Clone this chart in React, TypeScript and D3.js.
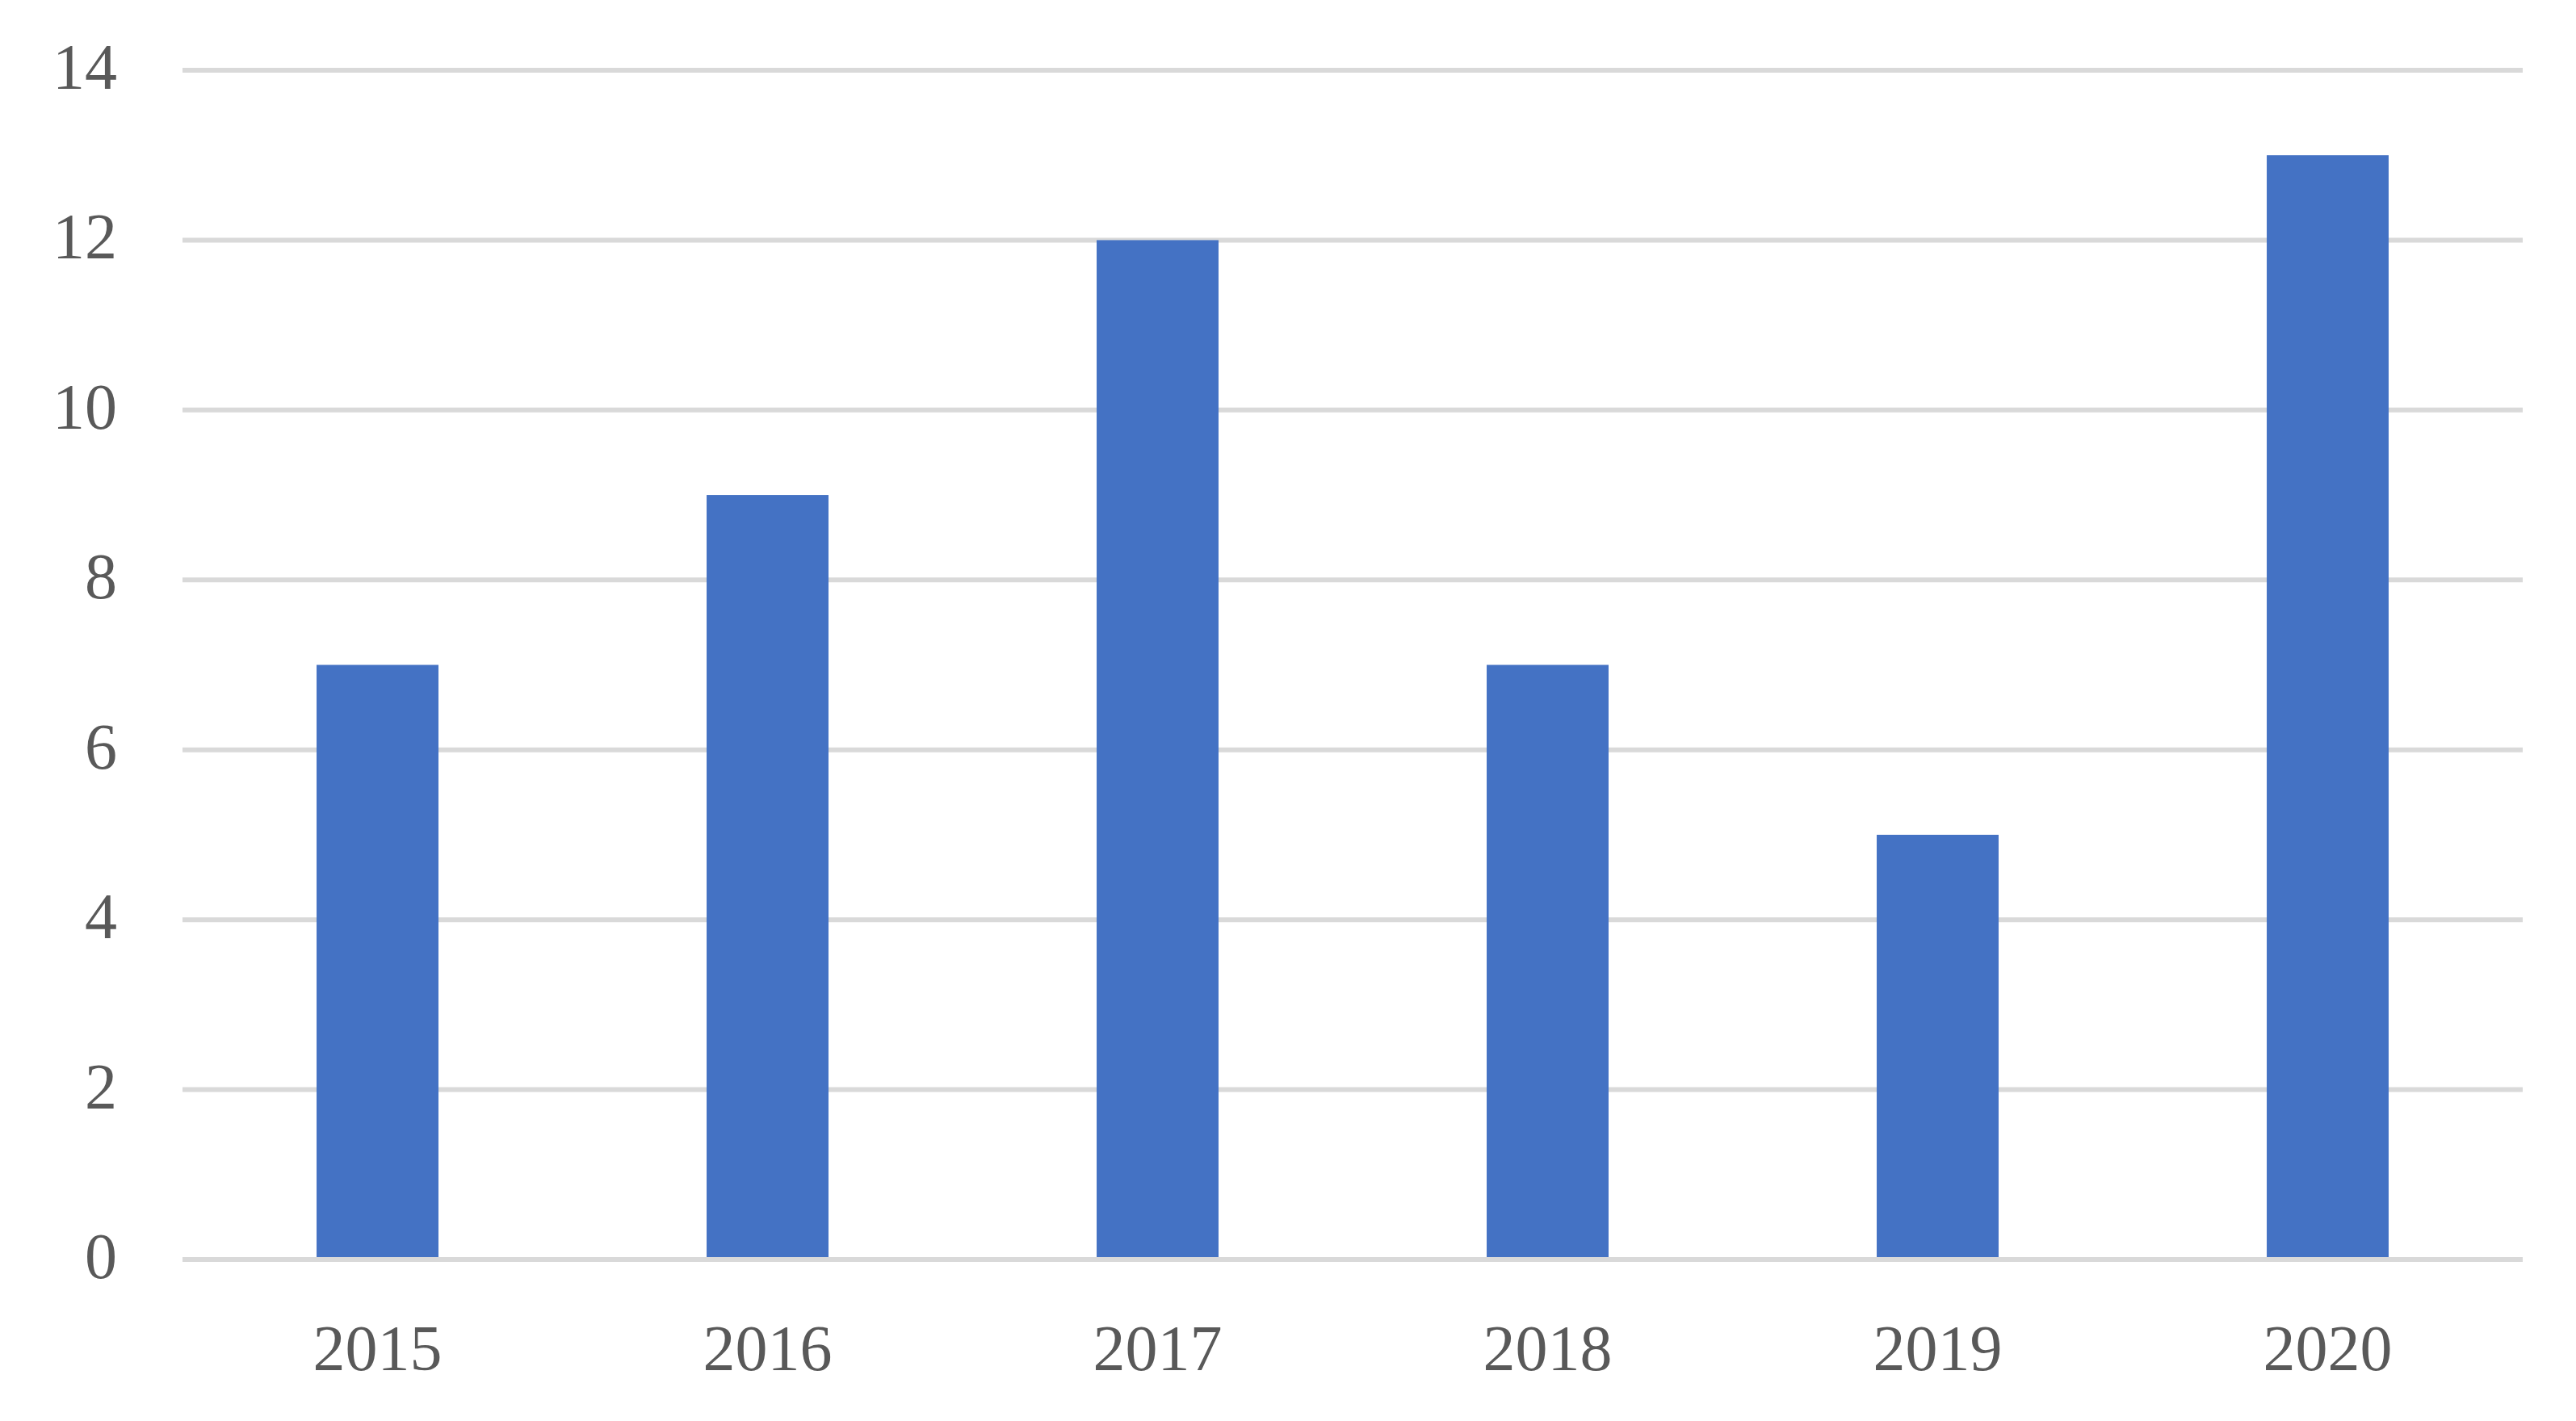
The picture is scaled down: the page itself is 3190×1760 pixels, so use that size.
import React from "react";
import * as d3 from "d3";

const years = ["2015", "2016", "2017", "2018", "2019", "2020"];
const values = [7, 9, 12, 7, 5, 13];
const yTicks = [0, 2, 4, 6, 8, 10, 12, 14];

const W = 3190;
const H = 1760;
const left = 226;
const right = 3124;
const top = 87;
const bottom = 1560;

export default function App() {
  const x = d3
    .scaleBand<string>()
    .domain(years)
    .range([left, right])
    .paddingInner(0.6875)
    .paddingOuter(0.34375);
  const y = d3.scaleLinear().domain([0, 14]).range([bottom, top]);
  const font = "'Liberation Serif', 'Times New Roman', serif";
  return (
    <svg
      width={W}
      height={H}
      style={{ position: "absolute", left: 0, top: 0, display: "block", background: "#fff" }}
    >
      <rect x={0} y={0} width={W} height={H} fill="#fff" />
      {yTicks.map((t) => (
        <g key={t}>
          <line x1={left} x2={right} y1={y(t)} y2={y(t)} stroke="#d9d9d9" strokeWidth={6} />
          <text
            x={145}
            y={y(t) + 23}
            textAnchor="end"
            fontFamily={font}
            fontSize={80}
            fill="#595959"
          >
            {t}
          </text>
        </g>
      ))}
      {years.map((yr, i) => (
        <rect
          key={yr}
          x={x(yr)}
          y={y(values[i])}
          width={x.bandwidth()}
          height={y(0) - 3 - y(values[i])}
          fill="#4472c4"
        />
      ))}
      {years.map((yr) => (
        <text
          key={yr}
          x={(x(yr) as number) + x.bandwidth() / 2}
          y={1697}
          textAnchor="middle"
          fontFamily={font}
          fontSize={80}
          fill="#595959"
        >
          {yr}
        </text>
      ))}
    </svg>
  );
}
